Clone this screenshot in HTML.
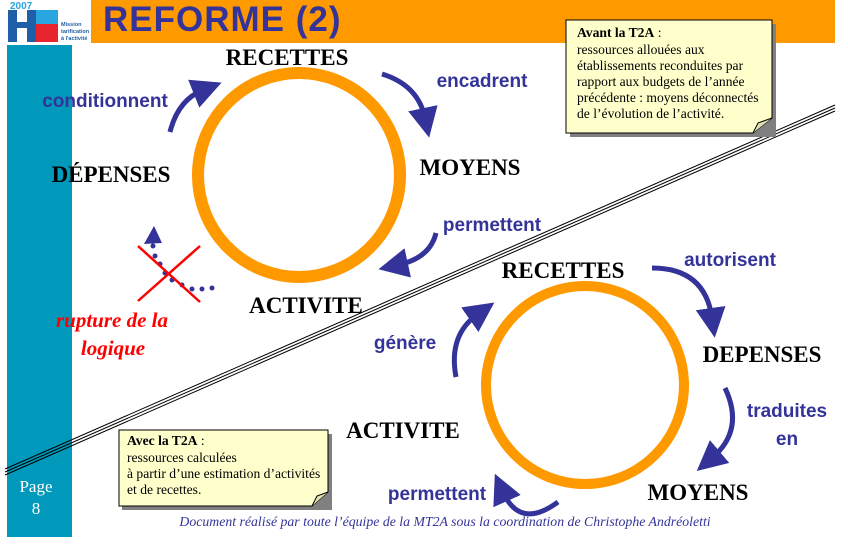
<!DOCTYPE html>
<html><head><meta charset="utf-8"><style>
html,body{margin:0;padding:0;background:#fff;}
svg{display:block;}
.b{font-family:"Liberation Sans",sans-serif;font-weight:bold;fill:#333399;font-size:19px;}
.t{font-family:"Liberation Serif",serif;font-weight:bold;fill:#000;font-size:23px;}
.n{font-family:"Liberation Serif",serif;font-size:13.6px;fill:#000;}
</style></head><body>
<svg width="848" height="550" viewBox="0 0 848 550" xmlns="http://www.w3.org/2000/svg">
<defs>
<marker id="ah" markerWidth="6" markerHeight="6" refX="2" refY="3" orient="auto" markerUnits="strokeWidth">
<path d="M0,0 L6,3 L0,6 z" fill="#333399"/></marker>
</defs>
<rect x="91" y="0" width="744" height="43" fill="#FF9900"/>
<text x="103" y="31" font-family="Liberation Sans,sans-serif" font-weight="bold" font-size="35" letter-spacing="1" fill="#333399">REFORME (2)</text>
<rect x="8" y="10" width="9" height="32" fill="#1F5FA8"/>
<rect x="17" y="22" width="12" height="6" fill="#1F5FA8"/>
<rect x="27" y="10" width="9" height="32" fill="#1F5FA8"/>
<rect x="36" y="10" width="22" height="14" fill="#29A6E0"/>
<rect x="36" y="24" width="22" height="18" fill="#E8242E"/>
<text x="10" y="9" font-family="Liberation Sans,sans-serif" font-weight="bold" font-size="10" fill="#29A6E0">2007</text>
<text x="61" y="26" font-family="Liberation Sans,sans-serif" font-size="5.5" font-weight="bold" fill="#1F5FA8">Mission</text>
<text x="61" y="33" font-family="Liberation Sans,sans-serif" font-size="5.5" font-weight="bold" fill="#1F5FA8">tarification</text>
<text x="61" y="40" font-family="Liberation Sans,sans-serif" font-size="5.5" font-weight="bold" fill="#1F5FA8">à l'activité</text>
<rect x="7" y="45" width="65" height="492" fill="#0099BB"/>
<text x="36" y="492" text-anchor="middle" font-family="Liberation Serif,serif" font-size="17" fill="#fff">Page</text>
<text x="36" y="514" text-anchor="middle" font-family="Liberation Serif,serif" font-size="17" fill="#fff">8</text>
<g stroke="#000" stroke-width="1">
<line x1="5" y1="469" x2="835" y2="105"/>
<line x1="5" y1="472" x2="835" y2="108"/>
<line x1="5" y1="475" x2="835" y2="111"/>
</g>
<ellipse cx="299" cy="175" rx="101" ry="102" fill="none" stroke="#FF9900" stroke-width="12"/>
<circle cx="585" cy="385" r="99" fill="none" stroke="#FF9900" stroke-width="10"/>
<g fill="none" stroke="#333399" stroke-width="5" marker-end="url(#ah)">
<path d="M170,132 Q178,100 203,90"/>
<path d="M382,74 Q418,85 425,118"/>
<path d="M436,233 Q430,258 398,265"/>
<path d="M456,377 Q448,335 478,314"/>
<path d="M652,268 Q705,268 712,318"/>
<path d="M725,388 Q745,430 712,458"/>
<path d="M558,502 Q520,530 503,492"/>
</g>
<g fill="#333399">
<circle cx="212" cy="288" r="2.5"/><circle cx="202" cy="289" r="2.5"/><circle cx="192" cy="289" r="2.5"/>
<circle cx="182" cy="285" r="2.5"/><circle cx="172" cy="280" r="2.5"/><circle cx="165" cy="273" r="2.5"/>
<circle cx="160" cy="264" r="2.5"/><circle cx="155" cy="256" r="2.5"/><circle cx="153" cy="246" r="2.5"/>
<path d="M144,244 L154,226 L162,243 z"/>
</g>
<g stroke="#FF0000" stroke-width="2.5">
<line x1="138" y1="246" x2="200" y2="302"/>
<line x1="138" y1="301" x2="200" y2="246"/>
</g>
<text class="t" x="287" y="65" text-anchor="middle">RECETTES</text>
<text class="t" x="111" y="182" text-anchor="middle">DÉPENSES</text>
<text class="t" x="470" y="175" text-anchor="middle">MOYENS</text>
<text class="t" x="306" y="313" text-anchor="middle">ACTIVITE</text>
<text class="t" x="563" y="278" text-anchor="middle">RECETTES</text>
<text class="t" x="762" y="362" text-anchor="middle">DEPENSES</text>
<text class="t" x="698" y="500" text-anchor="middle">MOYENS</text>
<text class="t" x="403" y="438" text-anchor="middle">ACTIVITE</text>
<text class="b" x="105" y="107" text-anchor="middle">conditionnent</text>
<text class="b" x="482" y="87" text-anchor="middle">encadrent</text>
<text class="b" x="492" y="231" text-anchor="middle">permettent</text>
<text class="b" x="730" y="266" text-anchor="middle">autorisent</text>
<text class="b" x="787" y="417" text-anchor="middle">traduites</text>
<text class="b" x="787" y="445" text-anchor="middle">en</text>
<text class="b" x="437" y="500" text-anchor="middle">permettent</text>
<text class="b" x="405" y="349" text-anchor="middle">génère</text>
<text x="112" y="327" text-anchor="middle" font-family="Liberation Serif,serif" font-style="italic" font-weight="bold" font-size="21" fill="#FF0000">rupture de la</text>
<text x="113" y="355" text-anchor="middle" font-family="Liberation Serif,serif" font-style="italic" font-weight="bold" font-size="21" fill="#FF0000">logique</text>
<rect x="570" y="24" width="206" height="113" fill="#808080"/>
<path d="M566,20 H772 V118 L753,133 H566 z" fill="#FFFFCC" stroke="#000" stroke-width="1"/>
<path d="M753,133 L758,123 L772,118" fill="#E0E0B0" stroke="#000" stroke-width="1"/>
<text class="n" x="577" y="37"><tspan font-weight="bold">Avant la T2A</tspan> :</text>
<text class="n" x="577" y="54">ressources allouées aux</text>
<text class="n" x="577" y="70">établissements reconduites par</text>
<text class="n" x="577" y="86">rapport aux budgets de l’année</text>
<text class="n" x="577" y="102">précédente : moyens déconnectés</text>
<text class="n" x="577" y="118">de l’évolution de l’activité.</text>
<rect x="122" y="434" width="210" height="76" fill="#808080"/>
<path d="M119,430 H328 V492 L312,506 H119 z" fill="#FFFFCC" stroke="#000" stroke-width="1"/>
<path d="M312,506 L317,496 L328,492" fill="#E0E0B0" stroke="#000" stroke-width="1"/>
<text class="n" x="127" y="445"><tspan font-weight="bold">Avec la T2A</tspan> :</text>
<text class="n" x="127" y="462">ressources calculées</text>
<text class="n" x="127" y="478">à partir d’une estimation d’activités</text>
<text class="n" x="127" y="494">et de recettes.</text>
<text x="445" y="526" text-anchor="middle" font-family="Liberation Serif,serif" font-style="italic" font-size="13.8" fill="#333399">Document réalisé par toute l’équipe de la MT2A sous la coordination de Christophe Andréoletti</text>
</svg>
</body></html>
